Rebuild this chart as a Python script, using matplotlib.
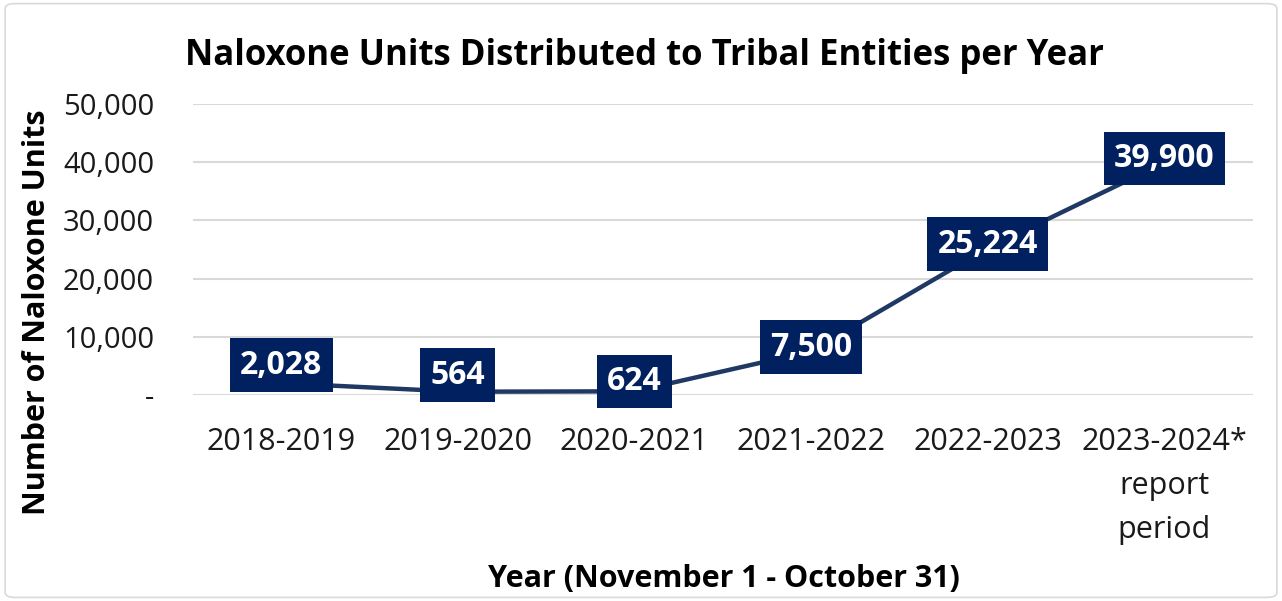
import matplotlib.pyplot as plt
from matplotlib.patches import FancyBboxPatch
from matplotlib.ticker import FuncFormatter

plt.rcParams['font.family'] = ['Open Sans', 'DejaVu Sans']

# data
years = ['2018-2019', '2019-2020', '2020-2021', '2021-2022', '2022-2023',
         '2023-2024*\nreport\nperiod']
units = [2028, 564, 624, 7500, 25224, 39900]
yticks = [0, 10000, 20000, 30000, 40000, 50000]

# label nudges (points) so the low labels sit above the line like the original
label_dy = [10, 9, 4, 0, 0, 0]

navy = '#002060'
line_col = '#1f3864'

fig = plt.figure(figsize=(12.82, 6.01), dpi=100)
ax = fig.add_axes([0.1505, 0.3428, 0.8265, 0.4842])

x = list(range(len(years)))
ax.plot(x, units, color=line_col, lw=3.2, solid_capstyle='round', zorder=2)

for xi, v, dy in zip(x, units, label_dy):
    ax.annotate(f'{v:,}', (xi, v), xytext=(0, dy + 3), textcoords='offset points',
                ha='center', va='center', color='white',
                fontsize=23, fontweight='bold', zorder=3,
                bbox=dict(boxstyle='square,pad=0.32', fc=navy, ec='none'))

ax.set_xlim(-0.5, len(years) - 0.5)
ax.set_ylim(0, 50000)
ax.set_yticks(yticks)
ax.yaxis.set_major_formatter(FuncFormatter(lambda v, p: '-' if v == 0 else f'{int(v):,}'))
ax.set_xticks(x)
ax.set_xticklabels(years, linespacing=1.6)
ax.tick_params(axis='y', length=0, pad=28, labelsize=21, labelcolor='#1a1a1a')
ax.tick_params(axis='x', length=0, pad=23, labelsize=22, labelcolor='#1a1a1a')
ax.grid(axis='y', color='#d9d9d9', lw=1.5, zorder=0)
for s in ax.spines.values():
    s.set_visible(False)

fig.text(0.503, 0.906, 'Naloxone Units Distributed to Tribal Entities per Year',
         ha='center', va='center', fontsize=25, fontweight='bold')
fig.text(0.029, 0.48, 'Number of Naloxone Units', rotation=90, ha='center', va='center',
         fontsize=22, fontweight='bold')
fig.text(0.565, 0.036, 'Year (November 1 - October 31)', ha='center', va='center',
         fontsize=22, fontweight='bold')

fig.patches.append(FancyBboxPatch((0.004, 0.006), 0.992, 0.988,
                                  boxstyle='round,pad=0,rounding_size=0.008',
                                  transform=fig.transFigure, fill=False,
                                  ec='#d9d9d9', lw=1.2))

fig.savefig('out.png', dpi=100)
